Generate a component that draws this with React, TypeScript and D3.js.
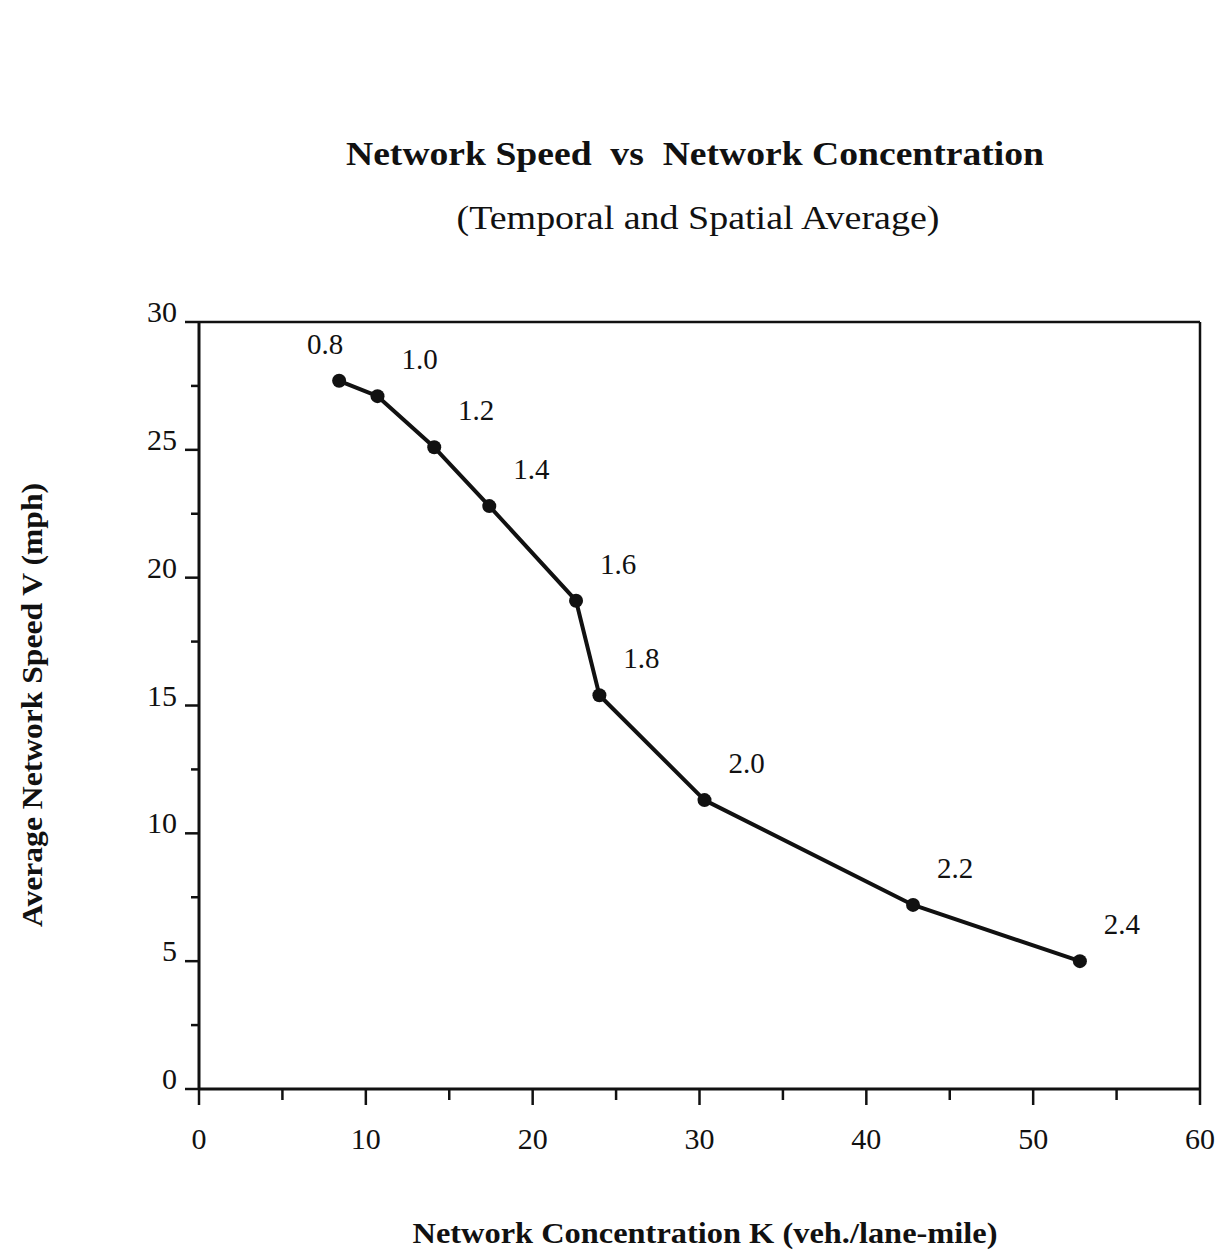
import React from "react";
import * as d3 from "d3";

const loadingFactors = ["0.8", "1.0", "1.2", "1.4", "1.6", "1.8", "2.0", "2.2", "2.4"];
const concentration = [8.4, 10.7, 14.1, 17.4, 22.6, 24.0, 30.3, 42.8, 52.8];
const speed = [27.7, 27.1, 25.1, 22.8, 19.1, 15.4, 11.3, 7.2, 5.0];
const xTickValues = [0, 10, 20, 30, 40, 50, 60];
const xMinorValues = [5, 15, 25, 35, 45, 55];
const yTickValues = [0, 5, 10, 15, 20, 25, 30];
const yMinorValues = [2.5, 7.5, 12.5, 17.5, 22.5, 27.5];

const title = "Network Speed\u00a0 vs\u00a0 Network Concentration";
const subtitle = "(Temporal and Spatial Average)";
const xLabel = "Network Concentration K (veh./lane-mile)";
const yLabel = "Average Network Speed V (mph)";

const W = 1232;
const H = 1252;
const FONT = "'Liberation Serif', 'Times New Roman', serif";
const INK = "#111";

export default function App() {
  const x = d3.scaleLinear().domain([0, 60]).range([199, 1200]);
  const y = d3.scaleLinear().domain([0, 30]).range([1089, 322]);
  const pts = concentration.map((c, i) => ({ c, v: speed[i], lab: loadingFactors[i] }));
  const line = d3
    .line<{ c: number; v: number }>()
    .x((d) => x(d.c))
    .y((d) => y(d.v));

  return (
    <div style={{ position: "absolute", left: 0, top: 0 }}>
      <svg width={W} height={H} style={{ display: "block", background: "#fff" }}>
        <text
          x={695}
          y={165}
          textAnchor="middle"
          fontFamily={FONT}
          fontWeight="bold"
          fontSize={34}
          fill={INK}
          textLength={698}
          lengthAdjust="spacingAndGlyphs"
        >
          {title}
        </text>
        <text
          x={698}
          y={229}
          textAnchor="middle"
          fontFamily={FONT}
          fontSize={34}
          fill={INK}
          textLength={483}
          lengthAdjust="spacingAndGlyphs"
        >
          {subtitle}
        </text>

        {/* frame: top and right */}
        <line x1={x(0)} x2={x(60)} y1={y(30)} y2={y(30)} stroke={INK} strokeWidth={2.5} />
        <line x1={x(60)} x2={x(60)} y1={y(30)} y2={y(0)} stroke={INK} strokeWidth={2.5} />
        {/* axes */}
        <line x1={x(0)} x2={x(0)} y1={y(30)} y2={y(0)} stroke={INK} strokeWidth={3} />
        <line x1={x(0)} x2={x(60)} y1={y(0)} y2={y(0)} stroke={INK} strokeWidth={3} />

        {yTickValues.map((t) => (
          <g key={"yt" + t}>
            <line x1={x(0) - 14} x2={x(0)} y1={y(t)} y2={y(t)} stroke={INK} strokeWidth={2.5} />
            <text x={x(0) - 22} y={y(t)} textAnchor="end" fontFamily={FONT} fontSize={30} fill={INK}>
              {t}
            </text>
          </g>
        ))}
        {yMinorValues.map((t) => (
          <line key={"ym" + t} x1={x(0) - 8} x2={x(0)} y1={y(t)} y2={y(t)} stroke={INK} strokeWidth={2.5} />
        ))}
        {xTickValues.map((t) => (
          <g key={"xt" + t}>
            <line x1={x(t)} x2={x(t)} y1={y(0)} y2={y(0) + 16} stroke={INK} strokeWidth={2.5} />
            <text x={x(t)} y={y(0) + 60} textAnchor="middle" fontFamily={FONT} fontSize={30} fill={INK}>
              {t}
            </text>
          </g>
        ))}
        {xMinorValues.map((t) => (
          <line key={"xm" + t} x1={x(t)} x2={x(t)} y1={y(0)} y2={y(0) + 11} stroke={INK} strokeWidth={2.5} />
        ))}

        <path d={line(pts) || ""} fill="none" stroke={INK} strokeWidth={4} strokeLinejoin="round" />
        {pts.map((p, i) => (
          <g key={"p" + i}>
            <circle cx={x(p.c)} cy={y(p.v)} r={7} fill={INK} />
            <text
              x={x(p.c) + (i === 0 ? -14 : 42)}
              y={y(p.v) - 27}
              textAnchor="middle"
              fontFamily={FONT}
              fontSize={29}
              fill={INK}
            >
              {p.lab}
            </text>
          </g>
        ))}

        <text
          x={705}
          y={1243}
          textAnchor="middle"
          fontFamily={FONT}
          fontWeight="bold"
          fontSize={30}
          fill={INK}
          textLength={585}
          lengthAdjust="spacingAndGlyphs"
        >
          {xLabel}
        </text>
        <text
          transform={`translate(42, 705) rotate(-90)`}
          textAnchor="middle"
          fontFamily={FONT}
          fontWeight="bold"
          fontSize={30}
          fill={INK}
          textLength={444}
          lengthAdjust="spacingAndGlyphs"
        >
          {yLabel}
        </text>
      </svg>
    </div>
  );
}
